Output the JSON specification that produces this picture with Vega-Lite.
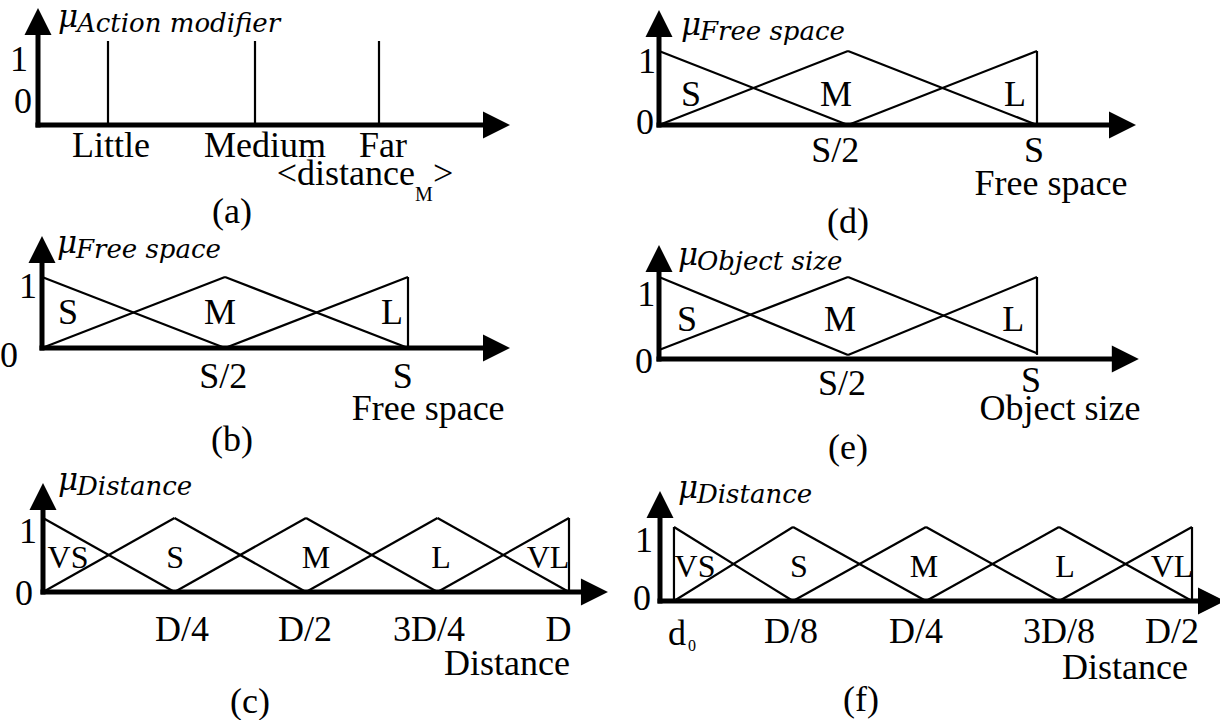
{
  "$schema": "https://vega.github.io/schema/vega-lite/v6.json",
  "padding": 0,
  "background": "white",
  "config": {"view": {"stroke": null}},
  "columns": 2,
  "spacing": 0,
  "bounds": "flush",
  "align": "each",
  "resolve": {"scale": {"x": "independent", "y": "independent"}},
  "concat": [
    {
      "width": 600, "height": 240,
      "encoding": {
        "x": {"field": "x", "type": "quantitative", "axis": null, "scale": {"domain": [-0.38, 5.62], "nice": false, "zero": false}},
        "y": {"field": "y", "type": "quantitative", "axis": null, "scale": {"domain": [-1.3690, 1.4881], "nice": false, "zero": false}}
      },
      "layer": [
        {"data": {"values": [{"x": 0, "y": 0, "x2": 4.45, "y2": 0}, {"x": 0, "y": 0, "x2": 0, "y2": 1.0714}]},
         "mark": {"type": "rule", "color": "black", "strokeWidth": 5, "strokeCap": "square"},
         "encoding": {"x2": {"field": "x2"}, "y2": {"field": "y2"}}},
        {"data": {"values": [{"x": 4.45, "y": 0, "dir": "right"}, {"x": 0, "y": 1.0714, "dir": "up"}]},
         "mark": {"type": "point", "filled": true, "color": "black", "opacity": 1, "strokeWidth": 0, "size": 729},
         "encoding": {"shape": {"field": "dir", "type": "nominal", "legend": null, "scale": {"domain": ["up", "right"], "range": ["M-1,0L1,0L0,-2Z", "M0,-1L0,1L2,0Z"]}}}},
        {"data": {"values": [
          {"set": "Little", "x": 0.70, "y": 0, "x2": 0.70, "y2": 1},
          {"set": "Medium", "x": 2.17, "y": 0, "x2": 2.17, "y2": 1},
          {"set": "Far", "x": 3.41, "y": 0, "x2": 3.41, "y2": 1}
        ]},
         "mark": {"type": "rule", "color": "black", "strokeWidth": 2.2},
         "encoding": {"x2": {"field": "x2"}, "y2": {"field": "y2"}}},
        {"data": {"values": [
          {"t": "1", "x": -0.19, "y": 0.774},
          {"t": "0", "x": -0.15, "y": 0.274},
          {"t": "Little", "x": 0.73, "y": -0.25},
          {"t": "Medium", "x": 2.27, "y": -0.25},
          {"t": "Far", "x": 3.45, "y": -0.25},
          {"t": "(a)", "x": 1.94, "y": -1.036}
        ]},
         "mark": {"type": "text", "font": "Liberation Serif", "fontSize": 36, "color": "black", "align": "center", "baseline": "middle"},
         "encoding": {"text": {"field": "t"}}},
        {"data": {"values": [{"pre": "<distance", "sub": "M", "post": ">", "x": 3.77, "y": -0.714}]},
         "mark": {"type": "text", "font": "Liberation Serif", "fontSize": 36, "color": "black", "align": "right", "baseline": "alphabetic"},
         "encoding": {"text": {"field": "pre"}}},
        {"data": {"values": [{"pre": "<distance", "sub": "M", "post": ">", "x": 3.77, "y": -0.714}]},
         "mark": {"type": "text", "font": "Liberation Serif", "fontSize": 20, "color": "black", "align": "left", "baseline": "alphabetic", "dy": 16},
         "encoding": {"text": {"field": "sub"}}},
        {"data": {"values": [{"pre": "<distance", "sub": "M", "post": ">", "x": 3.77, "y": -0.714}]},
         "mark": {"type": "text", "font": "Liberation Serif", "fontSize": 36, "color": "black", "align": "left", "baseline": "alphabetic", "dx": 18},
         "encoding": {"text": {"field": "post"}}},
        {"data": {"values": [{"mu": "μ", "sub": "Action modifier", "x": 0.20, "y": 1.167}]},
         "mark": {"type": "text", "font": "DejaVu Serif", "fontStyle": "italic", "fontSize": 31, "color": "black", "align": "left", "baseline": "alphabetic"},
         "encoding": {"text": {"field": "mu"}}},
        {"data": {"values": [{"mu": "μ", "sub": "Action modifier", "x": 0.20, "y": 1.167}]},
         "mark": {"type": "text", "font": "DejaVu Serif", "fontStyle": "italic", "fontSize": 26, "color": "black", "align": "left", "baseline": "alphabetic", "dx": 19, "dy": 5},
         "encoding": {"text": {"field": "sub"}}}
      ]
    },
    {
      "width": 620, "height": 240,
      "encoding": {
        "x": {"field": "x", "type": "quantitative", "axis": null, "scale": {"domain": [-0.15608, 1.48413], "nice": false, "zero": false}},
        "y": {"field": "y", "type": "quantitative", "axis": null, "scale": {"domain": [-1.5541, 1.6892], "nice": false, "zero": false}}
      },
      "layer": [
        {"data": {"values": [{"x": 0, "y": 0, "x2": 1.1905, "y2": 0}, {"x": 0, "y": 0, "x2": 0, "y2": 1.189}]},
         "mark": {"type": "rule", "color": "black", "strokeWidth": 5, "strokeCap": "square"},
         "encoding": {"x2": {"field": "x2"}, "y2": {"field": "y2"}}},
        {"data": {"values": [{"x": 1.1905, "y": 0, "dir": "right"}, {"x": 0, "y": 1.189, "dir": "up"}]},
         "mark": {"type": "point", "filled": true, "color": "black", "opacity": 1, "strokeWidth": 0, "size": 729},
         "encoding": {"shape": {"field": "dir", "type": "nominal", "legend": null, "scale": {"domain": ["up", "right"], "range": ["M-1,0L1,0L0,-2Z", "M0,-1L0,1L2,0Z"]}}}},
        {"data": {"values": [
          {"set": "S", "x": 0, "y": 1, "x2": 0.5, "y2": 0},
          {"set": "M", "x": 0, "y": 0, "x2": 0.5, "y2": 1},
          {"set": "M", "x": 0.5, "y": 1, "x2": 1, "y2": 0},
          {"set": "L", "x": 0.5, "y": 0, "x2": 1, "y2": 1},
          {"set": "L", "x": 1, "y": 1, "x2": 1, "y2": 0}
        ]},
         "mark": {"type": "rule", "color": "black", "strokeWidth": 2.2},
         "encoding": {"x2": {"field": "x2"}, "y2": {"field": "y2"}}},
        {"data": {"values": [
          {"t": "1", "x": -0.032, "y": 0.851},
          {"t": "0", "x": -0.037, "y": 0.027},
          {"t": "S", "x": 0.085, "y": 0.405},
          {"t": "M", "x": 0.468, "y": 0.405},
          {"t": "L", "x": 0.942, "y": 0.405},
          {"t": "S/2", "x": 0.466, "y": -0.351},
          {"t": "S", "x": 0.992, "y": -0.351},
          {"t": "Free space", "x": 1.037, "y": -0.797},
          {"t": "(d)", "x": 0.5, "y": -1.311}
        ]},
         "mark": {"type": "text", "font": "Liberation Serif", "fontSize": 36, "color": "black", "align": "center", "baseline": "middle"},
         "encoding": {"text": {"field": "t"}}},
        {"data": {"values": [{"mu": "μ", "sub": "Free space", "x": 0.058, "y": 1.216}]},
         "mark": {"type": "text", "font": "DejaVu Serif", "fontStyle": "italic", "fontSize": 31, "color": "black", "align": "left", "baseline": "alphabetic"},
         "encoding": {"text": {"field": "mu"}}},
        {"data": {"values": [{"mu": "μ", "sub": "Free space", "x": 0.058, "y": 1.216}]},
         "mark": {"type": "text", "font": "DejaVu Serif", "fontStyle": "italic", "fontSize": 26, "color": "black", "align": "left", "baseline": "alphabetic", "dx": 19, "dy": 5},
         "encoding": {"text": {"field": "sub"}}}
      ]
    },
    {
      "width": 600, "height": 230,
      "encoding": {
        "x": {"field": "x", "type": "quantitative", "axis": null, "scale": {"domain": [-0.11475, 1.52459], "nice": false, "zero": false}},
        "y": {"field": "y", "type": "quantitative", "axis": null, "scale": {"domain": [-1.71831, 1.52113], "nice": false, "zero": false}}
      },
      "layer": [
        {"data": {"values": [{"x": 0, "y": 0, "x2": 1.2049, "y2": 0}, {"x": 0, "y": 0, "x2": 0, "y2": 1.1972}]},
         "mark": {"type": "rule", "color": "black", "strokeWidth": 5, "strokeCap": "square"},
         "encoding": {"x2": {"field": "x2"}, "y2": {"field": "y2"}}},
        {"data": {"values": [{"x": 1.2049, "y": 0, "dir": "right"}, {"x": 0, "y": 1.1972, "dir": "up"}]},
         "mark": {"type": "point", "filled": true, "color": "black", "opacity": 1, "strokeWidth": 0, "size": 729},
         "encoding": {"shape": {"field": "dir", "type": "nominal", "legend": null, "scale": {"domain": ["up", "right"], "range": ["M-1,0L1,0L0,-2Z", "M0,-1L0,1L2,0Z"]}}}},
        {"data": {"values": [
          {"set": "S", "x": 0, "y": 1, "x2": 0.5, "y2": 0},
          {"set": "M", "x": 0, "y": 0, "x2": 0.5, "y2": 1},
          {"set": "M", "x": 0.5, "y": 1, "x2": 1, "y2": 0},
          {"set": "L", "x": 0.5, "y": 0, "x2": 1, "y2": 1},
          {"set": "L", "x": 1, "y": 1, "x2": 1, "y2": 0}
        ]},
         "mark": {"type": "rule", "color": "black", "strokeWidth": 2.2},
         "encoding": {"x2": {"field": "x2"}, "y2": {"field": "y2"}}},
        {"data": {"values": [
          {"t": "1", "x": -0.038, "y": 0.859},
          {"t": "0", "x": -0.090, "y": -0.113},
          {"t": "S", "x": 0.071, "y": 0.493},
          {"t": "M", "x": 0.486, "y": 0.493},
          {"t": "L", "x": 0.956, "y": 0.493},
          {"t": "S/2", "x": 0.495, "y": -0.408},
          {"t": "S", "x": 0.986, "y": -0.408},
          {"t": "Free space", "x": 1.055, "y": -0.859},
          {"t": "(b)", "x": 0.519, "y": -1.296}
        ]},
         "mark": {"type": "text", "font": "Liberation Serif", "fontSize": 36, "color": "black", "align": "center", "baseline": "middle"},
         "encoding": {"text": {"field": "t"}}},
        {"data": {"values": [{"mu": "μ", "sub": "Free space", "x": 0.041, "y": 1.338}]},
         "mark": {"type": "text", "font": "DejaVu Serif", "fontStyle": "italic", "fontSize": 31, "color": "black", "align": "left", "baseline": "alphabetic"},
         "encoding": {"text": {"field": "mu"}}},
        {"data": {"values": [{"mu": "μ", "sub": "Free space", "x": 0.041, "y": 1.338}]},
         "mark": {"type": "text", "font": "DejaVu Serif", "fontStyle": "italic", "fontSize": 26, "color": "black", "align": "left", "baseline": "alphabetic", "dx": 19, "dy": 5},
         "encoding": {"text": {"field": "sub"}}}
      ]
    },
    {
      "width": 620, "height": 230,
      "encoding": {
        "x": {"field": "x", "type": "quantitative", "axis": null, "scale": {"domain": [-0.15608, 1.48413], "nice": false, "zero": false}},
        "y": {"field": "y", "type": "quantitative", "axis": null, "scale": {"domain": [-1.35366, 1.45122], "nice": false, "zero": false}}
      },
      "layer": [
        {"data": {"values": [{"x": 0, "y": 0, "x2": 1.198, "y2": 0}, {"x": 0, "y": 0, "x2": 0, "y2": 1.061}]},
         "mark": {"type": "rule", "color": "black", "strokeWidth": 5, "strokeCap": "square"},
         "encoding": {"x2": {"field": "x2"}, "y2": {"field": "y2"}}},
        {"data": {"values": [{"x": 1.198, "y": 0, "dir": "right"}, {"x": 0, "y": 1.061, "dir": "up"}]},
         "mark": {"type": "point", "filled": true, "color": "black", "opacity": 1, "strokeWidth": 0, "size": 729},
         "encoding": {"shape": {"field": "dir", "type": "nominal", "legend": null, "scale": {"domain": ["up", "right"], "range": ["M-1,0L1,0L0,-2Z", "M0,-1L0,1L2,0Z"]}}}},
        {"data": {"values": [
          {"set": "S", "x": 0, "y": 1, "x2": 0.5, "y2": 0.05},
          {"set": "M", "x": 0, "y": 0.11, "x2": 0.5, "y2": 1},
          {"set": "M", "x": 0.5, "y": 1, "x2": 1, "y2": 0.07},
          {"set": "L", "x": 0.5, "y": 0.05, "x2": 1, "y2": 1},
          {"set": "L", "x": 1, "y": 1, "x2": 1, "y2": 0.05}
        ]},
         "mark": {"type": "rule", "color": "black", "strokeWidth": 2.2},
         "encoding": {"x2": {"field": "x2"}, "y2": {"field": "y2"}}},
        {"data": {"values": [
          {"t": "1", "x": -0.034, "y": 0.780},
          {"t": "0", "x": -0.040, "y": -0.037},
          {"t": "S", "x": 0.074, "y": 0.476},
          {"t": "M", "x": 0.479, "y": 0.476},
          {"t": "L", "x": 0.937, "y": 0.476},
          {"t": "S/2", "x": 0.484, "y": -0.305},
          {"t": "S", "x": 0.984, "y": -0.268},
          {"t": "Object size", "x": 1.061, "y": -0.610},
          {"t": "(e)", "x": 0.5, "y": -1.085}
        ]},
         "mark": {"type": "text", "font": "Liberation Serif", "fontSize": 36, "color": "black", "align": "center", "baseline": "middle"},
         "encoding": {"text": {"field": "t"}}},
        {"data": {"values": [{"mu": "μ", "sub": "Object size", "x": 0.050, "y": 1.146}]},
         "mark": {"type": "text", "font": "DejaVu Serif", "fontStyle": "italic", "fontSize": 31, "color": "black", "align": "left", "baseline": "alphabetic"},
         "encoding": {"text": {"field": "mu"}}},
        {"data": {"values": [{"mu": "μ", "sub": "Object size", "x": 0.050, "y": 1.146}]},
         "mark": {"type": "text", "font": "DejaVu Serif", "fontStyle": "italic", "fontSize": 26, "color": "black", "align": "left", "baseline": "alphabetic", "dx": 19, "dy": 5},
         "encoding": {"text": {"field": "sub"}}}
      ]
    },
    {
      "width": 600, "height": 250,
      "encoding": {
        "x": {"field": "x", "type": "quantitative", "axis": null, "scale": {"domain": [-0.32700, 4.23574], "nice": false, "zero": false}},
        "y": {"field": "y", "type": "quantitative", "axis": null, "scale": {"domain": [-1.72973, 1.64865], "nice": false, "zero": false}}
      },
      "layer": [
        {"data": {"values": [{"x": 0, "y": 0, "x2": 4.091, "y2": 0}, {"x": 0, "y": 0, "x2": 0, "y2": 1.108}]},
         "mark": {"type": "rule", "color": "black", "strokeWidth": 5, "strokeCap": "square"},
         "encoding": {"x2": {"field": "x2"}, "y2": {"field": "y2"}}},
        {"data": {"values": [{"x": 4.091, "y": 0, "dir": "right"}, {"x": 0, "y": 1.108, "dir": "up"}]},
         "mark": {"type": "point", "filled": true, "color": "black", "opacity": 1, "strokeWidth": 0, "size": 729},
         "encoding": {"shape": {"field": "dir", "type": "nominal", "legend": null, "scale": {"domain": ["up", "right"], "range": ["M-1,0L1,0L0,-2Z", "M0,-1L0,1L2,0Z"]}}}},
        {"data": {"values": [
          {"set": "VS", "x": 0, "y": 1, "x2": 1, "y2": 0},
          {"set": "S", "x": 0, "y": 0, "x2": 1, "y2": 1},
          {"set": "S", "x": 1, "y": 1, "x2": 2, "y2": 0},
          {"set": "M", "x": 1, "y": 0, "x2": 2, "y2": 1},
          {"set": "M", "x": 2, "y": 1, "x2": 3, "y2": 0},
          {"set": "L", "x": 2, "y": 0, "x2": 3, "y2": 1},
          {"set": "L", "x": 3, "y": 1, "x2": 4, "y2": 0},
          {"set": "VL", "x": 3, "y": 0, "x2": 4, "y2": 1},
          {"set": "VL", "x": 4, "y": 1, "x2": 4, "y2": 0}
        ]},
         "mark": {"type": "rule", "color": "black", "strokeWidth": 2.2},
         "encoding": {"x2": {"field": "x2"}, "y2": {"field": "y2"}}},
        {"data": {"values": [
          {"t": "1", "x": -0.114, "y": 0.811},
          {"t": "0", "x": -0.144, "y": -0.027},
          {"t": "D/4", "x": 1.057, "y": -0.514},
          {"t": "D/2", "x": 1.992, "y": -0.514},
          {"t": "3D/4", "x": 2.935, "y": -0.514},
          {"t": "D", "x": 3.92, "y": -0.514},
          {"t": "Distance", "x": 3.529, "y": -0.973},
          {"t": "(c)", "x": 1.574, "y": -1.486}
        ]},
         "mark": {"type": "text", "font": "Liberation Serif", "fontSize": 36, "color": "black", "align": "center", "baseline": "middle"},
         "encoding": {"text": {"field": "t"}}},
        {"data": {"values": [
          {"t": "VS", "x": 0.19, "y": 0.459},
          {"t": "S", "x": 1.004, "y": 0.459},
          {"t": "M", "x": 2.076, "y": 0.459},
          {"t": "L", "x": 3.027, "y": 0.459},
          {"t": "VL", "x": 3.84, "y": 0.459}
        ]},
         "mark": {"type": "text", "font": "Liberation Serif", "fontSize": 32, "color": "black", "align": "center", "baseline": "middle"},
         "encoding": {"text": {"field": "t"}}},
        {"data": {"values": [{"mu": "μ", "sub": "Distance", "x": 0.114, "y": 1.378}]},
         "mark": {"type": "text", "font": "DejaVu Serif", "fontStyle": "italic", "fontSize": 31, "color": "black", "align": "left", "baseline": "alphabetic"},
         "encoding": {"text": {"field": "mu"}}},
        {"data": {"values": [{"mu": "μ", "sub": "Distance", "x": 0.114, "y": 1.378}]},
         "mark": {"type": "text", "font": "DejaVu Serif", "fontStyle": "italic", "fontSize": 26, "color": "black", "align": "left", "baseline": "alphabetic", "dx": 19, "dy": 5},
         "encoding": {"text": {"field": "sub"}}}
      ]
    },
    {
      "width": 620, "height": 250,
      "encoding": {
        "x": {"field": "x", "type": "quantitative", "axis": null, "scale": {"domain": [-0.45113, 4.21053], "nice": false, "zero": false}},
        "y": {"field": "y", "type": "quantitative", "axis": null, "scale": {"domain": [-1.60811, 1.77027], "nice": false, "zero": false}}
      },
      "layer": [
        {"data": {"values": [{"x": 0, "y": 0, "x2": 4.045, "y2": 0}, {"x": 0, "y": 0, "x2": 0, "y2": 1.122}]},
         "mark": {"type": "rule", "color": "black", "strokeWidth": 5, "strokeCap": "square"},
         "encoding": {"x2": {"field": "x2"}, "y2": {"field": "y2"}}},
        {"data": {"values": [{"x": 4.045, "y": 0, "dir": "right"}, {"x": 0, "y": 1.122, "dir": "up"}]},
         "mark": {"type": "point", "filled": true, "color": "black", "opacity": 1, "strokeWidth": 0, "size": 729},
         "encoding": {"shape": {"field": "dir", "type": "nominal", "legend": null, "scale": {"domain": ["up", "right"], "range": ["M-1,0L1,0L0,-2Z", "M0,-1L0,1L2,0Z"]}}}},
        {"data": {"values": [
          {"set": "VS", "x": 0.105, "y": 0, "x2": 0.105, "y2": 1},
          {"set": "VS", "x": 0.105, "y": 1, "x2": 1, "y2": 0},
          {"set": "S", "x": 0.105, "y": 0, "x2": 1, "y2": 1},
          {"set": "S", "x": 1, "y": 1, "x2": 2, "y2": 0},
          {"set": "M", "x": 1, "y": 0, "x2": 2, "y2": 1},
          {"set": "M", "x": 2, "y": 1, "x2": 3, "y2": 0},
          {"set": "L", "x": 2, "y": 0, "x2": 3, "y2": 1},
          {"set": "L", "x": 3, "y": 1, "x2": 4, "y2": 0},
          {"set": "VL", "x": 3, "y": 0, "x2": 4, "y2": 1},
          {"set": "VL", "x": 4, "y": 1, "x2": 4, "y2": 0}
        ]},
         "mark": {"type": "rule", "color": "black", "strokeWidth": 2.2},
         "encoding": {"x2": {"field": "x2"}, "y2": {"field": "y2"}}},
        {"data": {"values": [
          {"t": "1", "x": -0.120, "y": 0.811},
          {"t": "0", "x": -0.135, "y": 0.027},
          {"t": "D/8", "x": 0.985, "y": -0.419},
          {"t": "D/4", "x": 1.925, "y": -0.419},
          {"t": "3D/8", "x": 3.0, "y": -0.419},
          {"t": "D/2", "x": 3.85, "y": -0.419},
          {"t": "Distance", "x": 3.496, "y": -0.905},
          {"t": "(f)", "x": 1.511, "y": -1.338}
        ]},
         "mark": {"type": "text", "font": "Liberation Serif", "fontSize": 36, "color": "black", "align": "center", "baseline": "middle"},
         "encoding": {"text": {"field": "t"}}},
        {"data": {"values": [
          {"t": "VS", "x": 0.263, "y": 0.459},
          {"t": "S", "x": 1.045, "y": 0.459},
          {"t": "M", "x": 1.985, "y": 0.459},
          {"t": "L", "x": 3.045, "y": 0.459},
          {"t": "VL", "x": 3.85, "y": 0.459}
        ]},
         "mark": {"type": "text", "font": "Liberation Serif", "fontSize": 32, "color": "black", "align": "center", "baseline": "middle"},
         "encoding": {"text": {"field": "t"}}},
        {"data": {"values": [{"pre": "d", "sub": "0", "x": 0.060, "y": -0.595}]},
         "mark": {"type": "text", "font": "Liberation Serif", "fontSize": 36, "color": "black", "align": "left", "baseline": "alphabetic"},
         "encoding": {"text": {"field": "pre"}}},
        {"data": {"values": [{"pre": "d", "sub": "0", "x": 0.060, "y": -0.595}]},
         "mark": {"type": "text", "font": "Liberation Serif", "fontSize": 16, "color": "black", "align": "left", "baseline": "alphabetic", "dx": 20, "dy": 6},
         "encoding": {"text": {"field": "sub"}}},
        {"data": {"values": [{"mu": "μ", "sub": "Distance", "x": 0.135, "y": 1.392}]},
         "mark": {"type": "text", "font": "DejaVu Serif", "fontStyle": "italic", "fontSize": 31, "color": "black", "align": "left", "baseline": "alphabetic"},
         "encoding": {"text": {"field": "mu"}}},
        {"data": {"values": [{"mu": "μ", "sub": "Distance", "x": 0.135, "y": 1.392}]},
         "mark": {"type": "text", "font": "DejaVu Serif", "fontStyle": "italic", "fontSize": 26, "color": "black", "align": "left", "baseline": "alphabetic", "dx": 19, "dy": 5},
         "encoding": {"text": {"field": "sub"}}}
      ]
    }
  ]
}
